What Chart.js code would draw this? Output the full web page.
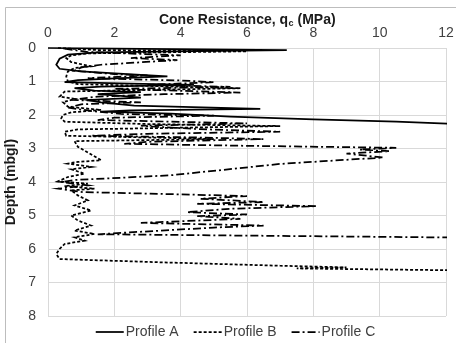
<!DOCTYPE html>
<html>
<head>
<meta charset="utf-8">
<script src="https://cdn.jsdelivr.net/npm/chart.js@4"></script>
<style>
  html, body { margin: 0; padding: 0; background: #fff; }
</style>
</head>
<body>
<canvas id="cpt" width="456" height="343"></canvas>
<script>
// cone resistance qc (MPa) against depth (mbgl)
var profileA_qc = [0.0, 2.0, 7.2, 4.5, 1.5, 0.6, 0.35, 0.25, 0.35, 1.0, 2.4, 3.6, 2.2, 0.9, 0.5, 2.5, 4.4, 1.6, 0.8, 1.4, 2.8, 1.5, 2.2, 2.8, 1.2, 1.6, 2.6, 6.4, 2.5, 1.6, 3.7, 5.5, 8.0, 10.5, 12.6];
var profileA_depth = [0.0, 0.02, 0.06, 0.09, 0.13, 0.2, 0.32, 0.5, 0.62, 0.7, 0.78, 0.85, 0.9, 0.96, 1.02, 1.06, 1.1, 1.15, 1.2, 1.27, 1.32, 1.38, 1.43, 1.48, 1.55, 1.62, 1.72, 1.82, 1.86, 1.9, 1.96, 2.05, 2.13, 2.2, 2.28];

var profileB_qc = [0.3, 1.5, 6.0, 3.5, 1.2, 0.7, 0.55, 0.7, 1.3, 0.8, 0.6, 0.55, 0.6, 0.9, 5.8, 2.5, 0.5, 0.35, 0.8, 0.45, 0.6, 1.6, 0.7, 0.45, 0.4, 0.5, 3.0, 7.0, 4.0, 0.9, 0.5, 0.55, 3.5, 5.0, 0.8, 0.9, 1.6, 0.9, 0.6, 1.3, 0.7, 1.1, 0.6, 0.3, 1.2, 0.5, 1.4, 0.7, 0.9, 1.2, 0.8, 1.3, 0.7, 0.9, 1.3, 0.8, 1.4, 0.8, 1.1, 0.5, 0.35, 0.25, 0.35, 3.5, 7.0, 9.0, 7.5, 12.6];
var profileB_depth = [0.0, 0.06, 0.1, 0.13, 0.16, 0.22, 0.3, 0.42, 0.55, 0.6, 0.7, 0.85, 1.0, 1.08, 1.2, 1.26, 1.3, 1.45, 1.52, 1.62, 1.75, 1.85, 1.92, 2.0, 2.1, 2.2, 2.27, 2.33, 2.38, 2.43, 2.5, 2.62, 2.68, 2.72, 2.78, 2.95, 3.35, 3.4, 3.45, 3.55, 3.62, 3.75, 3.85, 3.98, 4.05, 4.12, 4.2, 4.25, 4.4, 4.55, 4.7, 4.85, 5.0, 5.15, 5.3, 5.45, 5.55, 5.65, 5.75, 5.85, 6.0, 6.15, 6.3, 6.4, 6.5, 6.55, 6.58, 6.64];

var profileC_qc = [0.5, 1.2, 4.0, 2.5, 3.9, 1.6, 1.0, 0.8, 2.0, 3.0, 1.2, 4.0, 5.0, 3.0, 5.5, 2.0, 5.8, 3.5, 1.5, 0.7, 2.8, 1.0, 0.6, 1.3, 2.2, 5.0, 2.0, 1.5, 6.0, 2.8, 4.5, 7.0, 3.0, 1.3, 4.5, 6.5, 3.0, 2.3, 6.0, 10.5, 9.4, 10.3, 9.0, 10.1, 7.0, 3.7, 0.8, 0.4, 1.2, 0.3, 1.05, 4.0, 6.0, 4.6, 6.5, 4.5, 8.1, 5.5, 4.2, 6.0, 4.5, 5.8, 2.8, 6.5, 5.0, 1.5, 12.6];
var profileC_depth = [0.02, 0.12, 0.22, 0.3, 0.36, 0.5, 0.58, 0.68, 0.78, 0.82, 0.9, 0.97, 1.02, 1.1, 1.16, 1.22, 1.33, 1.38, 1.45, 1.55, 1.62, 1.68, 1.78, 1.88, 1.97, 2.02, 2.08, 2.15, 2.25, 2.32, 2.42, 2.5, 2.56, 2.62, 2.67, 2.72, 2.8, 2.86, 2.92, 2.98, 3.03, 3.08, 3.15, 3.27, 3.46, 3.8, 3.94, 4.0, 4.1, 4.2, 4.3, 4.37, 4.42, 4.5, 4.6, 4.65, 4.72, 4.8, 4.9, 4.97, 5.02, 5.1, 5.22, 5.3, 5.36, 5.56, 5.66];

var seriesNames = ['Profile A', 'Profile B', 'Profile C'];
var qcTicks = [0, 2, 4, 6, 8, 10, 12];
var depthTicks = [0, 1, 2, 3, 4, 5, 6, 7, 8];

function toPoints(qc, depth) {
  var pts = [];
  for (var i = 0; i < qc.length; i++) pts.push({ x: qc[i], y: depth[i] });
  return pts;
}

var fontFamily = "'Liberation Sans', Arial, sans-serif";
Chart.defaults.font.family = fontFamily;
Chart.defaults.font.size = 14;
Chart.defaults.color = '#404040';

// grey frame on the top and left edge, x title with a subscript c, and the legend
var frame = {
  id: 'frame',
  beforeDraw: function(chart) {
    var ctx = chart.ctx;
    ctx.save();
    ctx.fillStyle = '#fff';
    ctx.fillRect(0, 0, chart.width, chart.height);
    ctx.strokeStyle = '#bdbdbd';
    ctx.lineWidth = 1;
    ctx.beginPath();
    ctx.moveTo(5.5, chart.height);
    ctx.lineTo(5.5, 7.5);
    ctx.lineTo(chart.width, 7.5);
    ctx.stroke();
    ctx.restore();
  },
  afterDraw: function(chart) {
    var ctx = chart.ctx, area = chart.chartArea;
    var t1 = 'Cone Resistance, q', sub = 'c', t2 = ' (MPa)';
    ctx.save();
    ctx.fillStyle = '#1a1a1a';
    ctx.textBaseline = 'alphabetic';
    ctx.font = 'bold 14px ' + fontFamily;
    var w1 = ctx.measureText(t1).width, w2 = ctx.measureText(t2).width;
    ctx.font = 'bold 9px ' + fontFamily;
    var ws = ctx.measureText(sub).width;
    var x = (area.left + area.right) / 2 - (w1 + ws + w2) / 2;
    var y = 24;
    ctx.font = 'bold 14px ' + fontFamily;
    ctx.fillText(t1, x, y);
    ctx.font = 'bold 9px ' + fontFamily;
    ctx.fillText(sub, x + w1 + 0.5, y + 2);
    ctx.font = 'bold 14px ' + fontFamily;
    ctx.fillText(t2, x + w1 + ws + 0.5, y);

    // legend under the plot
    var sets = chart.data.datasets;
    var lineLen = 28, gap = 2, spacing = 15, total = 0;
    ctx.font = '14px ' + fontFamily;
    sets.forEach(function(ds, i) {
      total += lineLen + gap + ctx.measureText(ds.label).width + (i > 0 ? spacing : 0);
    });
    var lx = 235.5 - total / 2, ly = 332;
    ctx.textBaseline = 'middle';
    ctx.fillStyle = '#404040';
    sets.forEach(function(ds) {
      ctx.strokeStyle = ds.borderColor;
      ctx.lineWidth = ds.borderWidth;
      ctx.setLineDash(ds.borderDash);
      ctx.beginPath();
      ctx.moveTo(lx, ly);
      ctx.lineTo(lx + lineLen, ly);
      ctx.stroke();
      ctx.setLineDash([]);
      ctx.fillText(ds.label, lx + lineLen + gap, ly);
      lx += lineLen + gap + ctx.measureText(ds.label).width + spacing;
    });
    ctx.restore();
  }
};

var lineStyle = function(dash) {
  return {
    borderColor: '#000',
    backgroundColor: '#000',
    borderWidth: 1.75,
    borderDash: dash,
    pointRadius: 0,
    showLine: true,
    fill: false,
    tension: 0,
    clip: 1
  };
};

var dsA = Object.assign(lineStyle([]), { label: seriesNames[0], data: toPoints(profileA_qc, profileA_depth) });
var dsB = Object.assign(lineStyle([3, 2]), { label: seriesNames[1], data: toPoints(profileB_qc, profileB_depth) });
var dsC = Object.assign(lineStyle([8, 3, 2, 3]), { label: seriesNames[2], data: toPoints(profileC_qc, profileC_depth) });

var cptChart = new Chart(document.getElementById('cpt').getContext('2d'), {
  type: 'scatter',
  data: { datasets: [dsA, dsB, dsC] },
  plugins: [frame],
  options: {
    responsive: false,
    animation: false,
    devicePixelRatio: 1,
    layout: { padding: { left: 0, right: 0, top: 0, bottom: 27 } },
    plugins: {
      tooltip: { enabled: false },
      legend: { display: false }
    },
    scales: {
      x: {
        type: 'linear',
        position: 'top',
        min: 0,
        max: 12,
        afterBuildTicks: function(s) { s.ticks = qcTicks.map(function(v) { return { value: v }; }); },
        afterFit: function(s) { s.height = 48; s.paddingLeft = 0; s.paddingRight = 10; },
        grid: { color: '#d9d9d9', drawTicks: false },
        border: { color: '#d9d9d9' },
        ticks: { padding: 6, color: '#404040', maxRotation: 0 },
        title: { display: false }
      },
      y: {
        type: 'linear',
        reverse: true,
        min: 0,
        max: 8,
        afterBuildTicks: function(s) { s.ticks = depthTicks.map(function(v) { return { value: v }; }); },
        afterFit: function(s) { s.width = 48; },
        grid: { color: '#d9d9d9', drawTicks: false },
        border: { color: '#d9d9d9' },
        ticks: { padding: 12, color: '#404040' },
        title: {
          display: true,
          text: 'Depth (mbgl)',
          color: '#1a1a1a',
          font: { size: 14, weight: 'bold' },
          padding: { top: 3, bottom: 0 }
        }
      }
    }
  }
});
</script>
</body>
</html>
